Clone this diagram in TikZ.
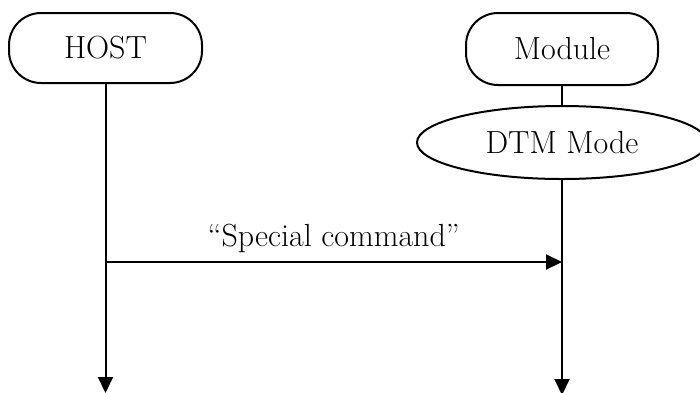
\documentclass[tikz,border=0pt]{standalone}
\usetikzlibrary{arrows.meta,shapes.geometric}
\begin{document}
\begin{tikzpicture}[x=1pt,y=-1pt,
  lbl/.style={font=\fontsize{32}{38}\selectfont},
  actor/.style={draw,line width=2pt,rounded corners=32pt,minimum width=193pt,minimum height=70pt,inner sep=0pt,lbl},
  modebox/.style={draw,line width=2pt,ellipse,minimum width=290pt,minimum height=73pt,inner sep=0pt,lbl},
  life/.style={line width=2pt},
  msg/.style={line width=2pt,-{Triangle[length=16pt,width=15pt]}}]
\useasboundingbox (0,0) rectangle (700,392);
\node[actor] (host) at (105.5,48) {HOST};
\node[actor,minimum width=192pt,minimum height=72pt] (module) at (562,49) {Module};
\node[modebox] (dtm) at (562,142.5) {DTM Mode};
\coordinate (hostend) at (105.5,393);
\coordinate (modend) at (562,395);
\coordinate (msgL) at (105.5,262);
\coordinate (msgR) at (562,262);
\draw[life] (module.south) -- (dtm.north);
\draw[msg] (host.south) -- (hostend);
\draw[msg] (dtm.south) -- (modend);
\draw[msg] (msgL) -- node[above=5pt,lbl] (cmd) {``Special command''} (msgR);
\end{tikzpicture}
\end{document}
